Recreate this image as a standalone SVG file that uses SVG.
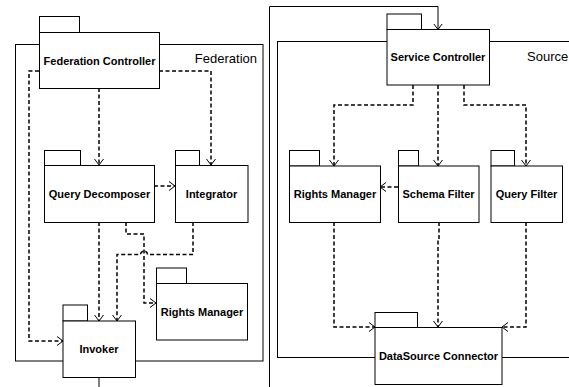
<svg xmlns="http://www.w3.org/2000/svg" width="569" height="387" viewBox="0 0 569 387">
<defs>
<style>
.frame{fill:#fff;stroke:#000;stroke-width:1}
.box{fill:#fff;stroke:#000;stroke-width:1}
.lbl{font-family:"Liberation Sans",Arial,sans-serif;font-size:11px;font-weight:bold;text-anchor:middle;dominant-baseline:central;fill:#000}
.flbl{font-family:"Liberation Sans",Arial,sans-serif;font-size:13px;fill:#000}
.dep{fill:none;stroke:#000;stroke-width:1.5;stroke-dasharray:4 2.5}
.solid{fill:none;stroke:#000;stroke-width:1}
</style>
<marker id="arr" markerUnits="userSpaceOnUse" markerWidth="12" markerHeight="12" refX="6" refY="5" orient="auto" viewBox="0 0 12 12">
<path d="M0,0.5 L6,5 L0,9.5" fill="none" stroke="#000" stroke-width="1" stroke-dasharray="none"/>
</marker>
</defs>
<rect width="569" height="387" fill="#fff"/>
<g id="federation-frame">
<rect class="frame" x="15.5" y="44.5" width="247.5" height="316.5"/>
<text class="flbl" x="257" y="63" text-anchor="end">Federation</text>
</g>
<g id="source-frame">
<rect class="frame" x="277.5" y="41.5" width="300" height="316"/>
<text class="flbl" x="527" y="61">Source</text>
</g>
<g id="connectors">
<path class="dep" d="M99,88 V165" marker-end="url(#arr)"/>
<path class="dep" d="M159,71 H211 V165" marker-end="url(#arr)"/>
<path class="dep" d="M39,71 H29 V341 H63" marker-end="url(#arr)"/>
<path class="dep" d="M154,186 H175" marker-end="url(#arr)"/>
<path class="dep" d="M99,222 V321" marker-end="url(#arr)"/>
<path class="dep" d="M126,222 V234 H144 V303 H156" marker-end="url(#arr)"/>
<path class="dep" d="M193,222 V254.5 H147.5 A3.5,3.5 0 0 0 140.5,254.5 H117 V321" marker-end="url(#arr)"/>
<path class="solid" d="M99,377 V387"/>
<path class="solid" d="M269.5,387 V6.5 H438 V29.5" marker-end="url(#arr)"/>
<path class="dep" d="M413,85 V105 H334 V166" marker-end="url(#arr)"/>
<path class="dep" d="M438,85 V166" marker-end="url(#arr)"/>
<path class="dep" d="M464,85 V105 H526 V166" marker-end="url(#arr)"/>
<path class="dep" d="M398,187 H380" marker-end="url(#arr)"/>
<path class="dep" d="M334,222 V327 H375" marker-end="url(#arr)"/>
<path class="dep" d="M439,222 V240 H438 V327" marker-end="url(#arr)"/>
<path class="dep" d="M526,222 V327 H502" marker-end="url(#arr)"/>
</g>
<g id="federation-controller">
<rect class="box" x="39.5" y="16.5" width="40" height="16"/>
<rect class="box" x="39.5" y="32.5" width="120" height="56"/>
<text class="lbl" x="99.5" y="60.5">Federation Controller</text>
</g>
<g id="query-decomposer">
<rect class="box" x="44.5" y="150.5" width="36" height="15"/>
<rect class="box" x="44.5" y="165.5" width="110" height="57"/>
<text class="lbl" x="99.5" y="194">Query Decomposer</text>
</g>
<g id="integrator">
<rect class="box" x="175.5" y="150.5" width="24" height="15"/>
<rect class="box" x="175.5" y="165.5" width="72.5" height="57"/>
<text class="lbl" x="211.5" y="194">Integrator</text>
</g>
<g id="rights-manager-fed">
<rect class="box" x="156.5" y="268" width="30" height="15.5"/>
<rect class="box" x="156.5" y="283.5" width="91" height="56.5"/>
<text class="lbl" x="202" y="311.5">Rights Manager</text>
</g>
<g id="invoker">
<rect class="box" x="63" y="305" width="24.5" height="16"/>
<rect class="box" x="63" y="321" width="72.5" height="56.5"/>
<text class="lbl" x="99" y="349">Invoker</text>
</g>
<g id="service-controller">
<rect class="box" x="387" y="14" width="34.5" height="15.5"/>
<rect class="box" x="387" y="29.5" width="102.5" height="55.5"/>
<text class="lbl" x="438" y="57">Service Controller</text>
</g>
<g id="rights-manager-src">
<rect class="box" x="289.5" y="150.5" width="30" height="15.5"/>
<rect class="box" x="289.5" y="166" width="91" height="56.5"/>
<text class="lbl" x="335" y="194">Rights Manager</text>
</g>
<g id="schema-filter">
<rect class="box" x="398.5" y="150.5" width="20" height="15.5"/>
<rect class="box" x="398.5" y="166" width="80.5" height="56.5"/>
<text class="lbl" x="438.5" y="194">Schema Filter</text>
</g>
<g id="query-filter">
<rect class="box" x="491" y="150.5" width="23.5" height="15.5"/>
<rect class="box" x="491" y="166" width="71.5" height="56.5"/>
<text class="lbl" x="526.5" y="194">Query Filter</text>
</g>
<g id="datasource-connector">
<rect class="box" x="375" y="312.5" width="42.5" height="15"/>
<rect class="box" x="375" y="327.5" width="127" height="57"/>
<text class="lbl" x="438.5" y="356">DataSource Connector</text>
</g>
</svg>
